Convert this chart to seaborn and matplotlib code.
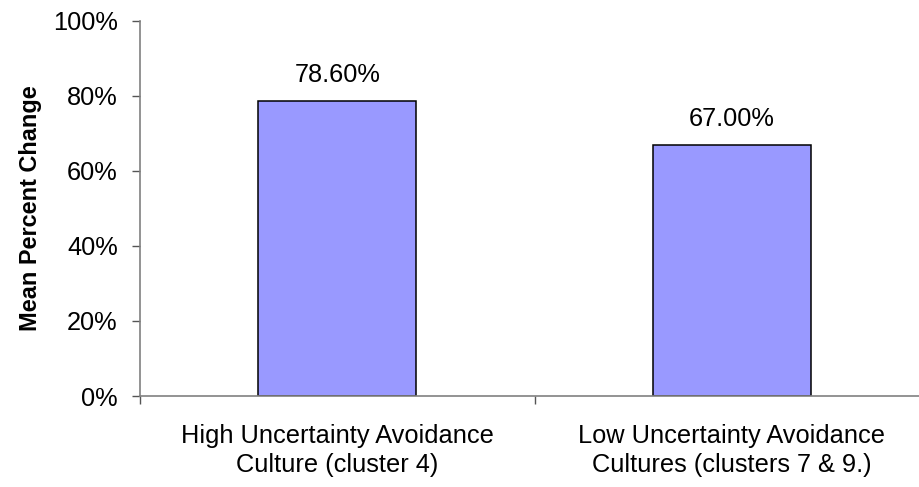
import matplotlib
matplotlib.use("Agg")
import matplotlib.pyplot as plt
import seaborn as sns
import pandas as pd
from matplotlib.ticker import FuncFormatter, FixedLocator

# Mean percent change by uncertainty-avoidance culture group
categories = [
    "High Uncertainty Avoidance\nCulture (cluster 4)",
    "Low Uncertainty Avoidance\nCultures (clusters 7 & 9.)",
]
mean_change = [78.60, 67.00]
value_labels = ["78.60%", "67.00%"]
y_ticks = [0, 20, 40, 60, 80, 100]

df = pd.DataFrame({"group": categories, "change": mean_change})

sns.set_theme(style="white")
plt.rcParams["font.family"] = ["Liberation Sans", "DejaVu Sans"]
plt.rcParams["text.color"] = "black"
plt.rcParams["xtick.labelcolor"] = "black"
plt.rcParams["ytick.labelcolor"] = "black"

FS = 18.3
W, H = 919, 487
fig = plt.figure(figsize=(W / 100, H / 100), dpi=100)
ax = fig.add_axes([140 / W, (H - 396) / H, 789 / W, 375 / H])

sns.barplot(data=df, x="group", y="change", color="#9999FF", saturation=1,
            width=0.4, edgecolor="black", linewidth=1.1, ax=ax)

ax.set_xlim(-0.5, 1.5)
ax.set_ylim(0, 100)
ax.yaxis.set_major_locator(FixedLocator(y_ticks))
ax.yaxis.set_major_formatter(FuncFormatter(lambda v, _: f"{v:.0f}%"))

for i, (v, lab) in enumerate(zip(mean_change, value_labels)):
    ax.annotate(lab, (i, v), xytext=(0, 10), textcoords="offset points",
                ha="center", va="bottom", fontsize=FS, color="black")

for side in ("top", "right"):
    ax.spines[side].set_visible(False)
for side in ("left", "bottom"):
    ax.spines[side].set_color("#808080")
    ax.spines[side].set_linewidth(1.2)

ax.tick_params(axis="y", which="major", direction="out", length=6, width=1,
               color="#555555", pad=10, labelsize=FS, labelcolor="black", left=True)
ax.tick_params(axis="x", which="major", length=0, pad=20, labelsize=FS,
               labelcolor="black")
ax.xaxis.set_minor_locator(FixedLocator([-0.5, 0.5, 1.5]))
ax.tick_params(axis="x", which="minor", direction="out", length=6, width=1,
               color="#555555", bottom=True)
for t in ax.get_xticklabels():
    t.set_ha("center")
    t.set_multialignment("center")
    t.set_linespacing(1.3)

ax.set_xlabel("")
ax.set_ylabel("Mean Percent Change", fontsize=16.9, fontweight="bold",
              va="center", color="black")
ax.yaxis.set_label_coords(-110 / 789, 0.5)

fig.savefig("out.png", dpi=100)
